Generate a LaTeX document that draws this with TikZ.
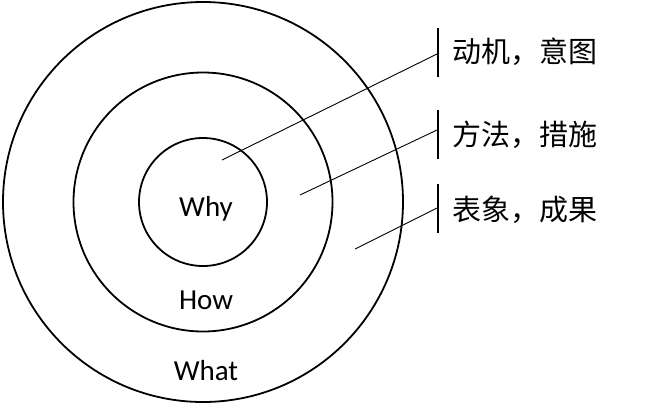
\documentclass[tikz,border=0pt]{standalone}
\usepackage{fontspec}
\setmainfont{Carlito}
\newfontfamily\cjk{Noto Sans CJK SC}
\usepackage{tikz}

\tikzset{
  ring/.style={shape=circle,draw=black,line width=1.8pt,inner sep=0pt},
  ringlabel/.style={anchor=base,inner sep=0pt,font=\fontsize{29}{29}\selectfont},
  sidelabel/.style={anchor=west,inner sep=0pt,font=\cjk\fontsize{29}{29}\selectfont},
  bar/.style={line width=2.2pt},
  pointer/.style={line width=0.9pt}
}

\begin{document}
\begin{tikzpicture}[x=1pt,y=-1pt]
\useasboundingbox[fill=white] (0,0) rectangle (653,405);
% rings
\node[ring,minimum size=400pt] (What) at (203,202) {};
\node[ring,minimum size=259pt] (How) at (203,202) {};
\node[ring,minimum size=128pt] (Why) at (203,202) {};
\node[ringlabel] (WhyText) at (206,216) {Why};
\node[ringlabel] (HowText) at (206,309) {How};
\node[ringlabel] (WhatText) at (206,380) {What};
% side labels
\node[sidelabel] (L1) at (452,52) {动机，意图};
\node[sidelabel] (L2) at (452,135) {方法，措施};
\node[sidelabel] (L3) at (452,210) {表象，成果};
% bars
\coordinate (T1) at (438,28);
\coordinate (B1) at (438,77);
\coordinate (T2) at (438,110);
\coordinate (B2) at (438,159);
\coordinate (T3) at (438,184);
\coordinate (B3) at (438,233);
\path [bar] (T1) edge (B1);
\path [bar] (T2) edge (B2);
\path [bar] (T3) edge (B3);
% pointers
\coordinate (P1) at (222,160);
\coordinate (P2) at (300,195);
\coordinate (P3) at (355,249);
\coordinate (M1) at (437,54);
\coordinate (M2) at (437,130);
\coordinate (M3) at (437,208);
\path [pointer] (P1) edge (M1);
\path [pointer] (P2) edge (M2);
\path [pointer] (P3) edge (M3);
\end{tikzpicture}
\end{document}
